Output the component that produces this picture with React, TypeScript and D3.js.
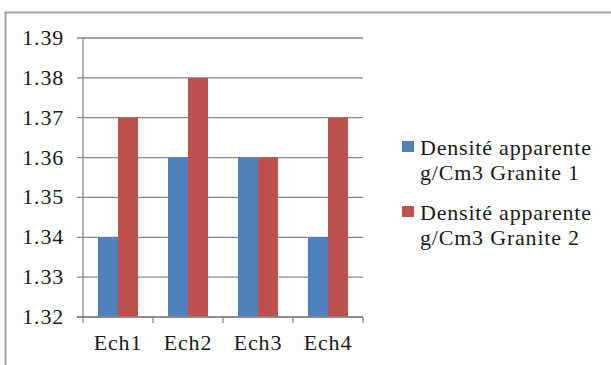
import React from "react";
import * as d3 from "d3";

const categories = ["Ech1", "Ech2", "Ech3", "Ech4"];
const seriesNames = [
  ["Densité apparente", "g/Cm3 Granite 1"],
  ["Densité apparente", "g/Cm3 Granite 2"],
];
const granite1 = [1.34, 1.36, 1.36, 1.34];
const granite2 = [1.37, 1.38, 1.36, 1.37];
const yTicks = [1.32, 1.33, 1.34, 1.35, 1.36, 1.37, 1.38, 1.39];
const colors = ["#4F81BD", "#C0504D"];

const W = 611;
const H = 365;
const plot = { left: 83, right: 363, top: 38, bottom: 317 };

type LabelProps = { x: number; y: number; anchor?: "start" | "middle" | "end"; size?: number; children: React.ReactNode };

function Label({ x, y, anchor = "start", size = 22, children }: LabelProps) {
  return (
    <text
      x={x}
      y={y}
      textAnchor={anchor}
      fontSize={size}
      fontFamily="Times New Roman"
      letterSpacing={0.8}
      fill="#1a1a1a"
    >
      {children}
    </text>
  );
}

export default function App() {
  const x = d3
    .scaleBand<string>()
    .domain(categories)
    .range([plot.left, plot.right])
    .paddingInner(0)
    .paddingOuter(0);
  const y = d3.scaleLinear().domain([1.32, 1.39]).range([plot.bottom, plot.top]);
  const bw = x.bandwidth() / 3.5;
  const series = [granite1, granite2];

  return (
    <svg
      width={W}
      height={H}
      style={{ position: "absolute", left: 0, top: 0, background: "#fff" }}
    >
      {/* chart frame */}
      <rect x={5.5} y={12.5} width={W + 10} height={H + 10} fill="#fff" stroke="#a6a6a6" strokeWidth={2} />

      {/* gridlines */}
      {yTicks.map((t) => (
        <line key={t} x1={plot.left - 6} x2={plot.right} y1={y(t)} y2={y(t)} stroke="#878787" strokeWidth={1.3} />
      ))}

      {/* bars */}
      {series.map((vals, si) =>
        vals.map((v, i) => (
          <rect
            key={`${si}-${i}`}
            x={(x(categories[i]) as number) + bw * 0.75 + si * bw}
            y={y(v)}
            width={bw}
            height={y(1.32) - y(v)}
            fill={colors[si]}
          />
        ))
      )}

      {/* axes */}
      <line x1={plot.left} x2={plot.left} y1={plot.top} y2={plot.bottom} stroke="#878787" strokeWidth={1.3} />
      <line x1={plot.left - 6} x2={plot.right} y1={plot.bottom} y2={plot.bottom} stroke="#878787" strokeWidth={1.3} />
      {[...categories.map((c) => x(c) as number), plot.right].map((px, i) => (
        <line key={i} x1={px} x2={px} y1={plot.bottom} y2={plot.bottom + 6} stroke="#878787" strokeWidth={1.3} />
      ))}

      {/* y tick labels */}
      {yTicks.map((t) => (
        <Label key={t} x={64} y={y(t) + 7} anchor="end">
          {t.toFixed(2)}
        </Label>
      ))}

      {/* category labels */}
      {categories.map((c) => (
        <Label key={c} x={(x(c) as number) + x.bandwidth() / 2} y={350} anchor="middle">
          {c}
        </Label>
      ))}

      {/* legend */}
      {seriesNames.map((lines, si) => (
        <g key={si} transform={`translate(0, ${si * 65})`}>
          <rect x={402} y={141} width={12} height={11} fill={colors[si]} />
          {lines.map((l, li) => (
            <Label key={li} x={420} y={155 + li * 25}>
              {l}
            </Label>
          ))}
        </g>
      ))}
    </svg>
  );
}
